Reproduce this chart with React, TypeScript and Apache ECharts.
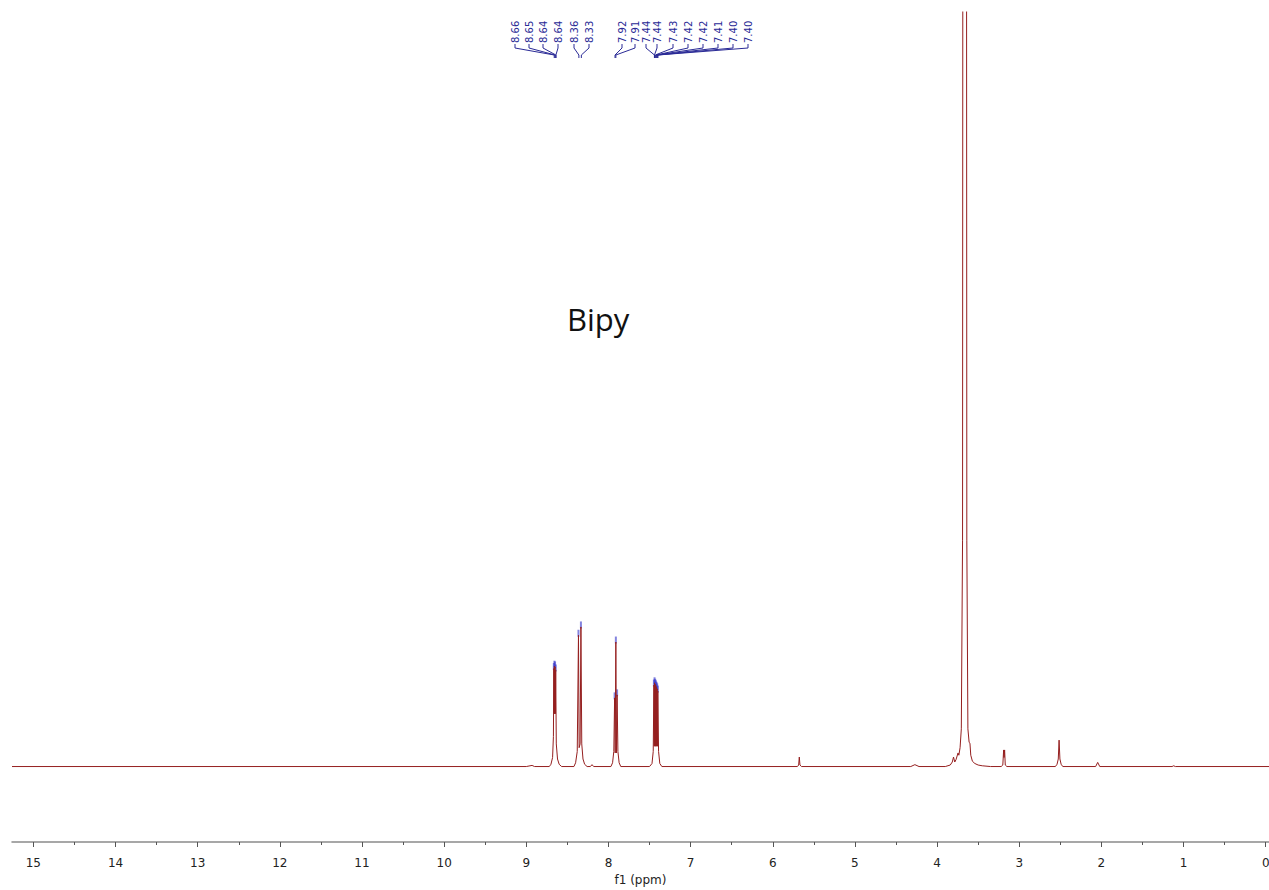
import React, { useEffect, useRef } from "react";
import * as echarts from "echarts";

// Spectrum trace: [ppm, intensity] (baseline = 0)
const SPECTRUM: [number, number][] = [
  [15.26, 0], [9.0, 0], [8.93, 0.15], [8.9, 0],
  // 8.66-8.64 multiplet
  [8.72, 0], [8.7, 0.3], [8.68, 1.2], [8.67, 4], [8.665, 13.0], [8.662, 7], [8.658, 13.3], [8.654, 7],
  [8.65, 13.2], [8.646, 7], [8.642, 12.8], [8.635, 3], [8.62, 1], [8.6, 0.3], [8.57, 0],
  // 8.36 / 8.33
  [8.42, 0], [8.4, 0.5], [8.38, 2], [8.365, 17.4], [8.357, 2.5], [8.345, 3], [8.335, 18.5], [8.325, 3],
  [8.31, 1], [8.29, 0.3], [8.26, 0],
  [8.22, 0], [8.2, 0.25], [8.18, 0],
  // 7.92 / 7.91
  [7.97, 0], [7.95, 0.5], [7.935, 2], [7.925, 9.1], [7.918, 1.8], [7.91, 16.5], [7.903, 1.8], [7.895, 9.5],
  [7.885, 2], [7.87, 0.5], [7.85, 0],
  // 7.44-7.40 multiplet
  [7.5, 0], [7.47, 0.4], [7.455, 2], [7.447, 10.8], [7.443, 2.7], [7.439, 11.1], [7.435, 2.7], [7.431, 10.9],
  [7.427, 2.7], [7.423, 10.7], [7.419, 2.7], [7.415, 10.5], [7.411, 2.7], [7.407, 10.3], [7.403, 2.7],
  [7.399, 10.0], [7.39, 2], [7.375, 0.4], [7.35, 0],
  // 5.68
  [5.7, 0], [5.685, 0.2], [5.677, 1.26], [5.669, 0.2], [5.65, 0],
  // 4.27
  [4.32, 0], [4.27, 0.25], [4.22, 0],
  // 3.66 large signal
  [3.9, 0], [3.84, 0.2], [3.815, 0.6], [3.8, 1.26], [3.785, 0.6], [3.77, 0.9], [3.745, 1.8], [3.735, 1.5],
  [3.72, 2.5], [3.705, 5], [3.69, 30], [3.685, 150], [3.665, 800], [3.643, 150], [3.638, 30], [3.625, 5],
  [3.61, 3.2], [3.6, 3.1], [3.59, 1.5], [3.57, 0.7], [3.54, 0.4], [3.5, 0.2], [3.45, 0.1], [3.35, 0],
  // 3.18 doublet
  [3.22, 0], [3.2, 0.2], [3.19, 2.2], [3.185, 1.2], [3.178, 2.2], [3.17, 0.2], [3.15, 0],
  // 2.51
  [2.56, 0], [2.54, 0.3], [2.525, 1], [2.515, 3.5], [2.505, 1], [2.49, 0.3], [2.47, 0],
  // 2.05
  [2.07, 0], [2.045, 0.55], [2.02, 0],
  [1.14, 0], [1.12, 0.1], [1.1, 0],
  [-0.04, 0],
];

// Peak-pick markers (blue ticks above peak tops)
const PICK_MARKS: [number, number][] = [
  [8.665, 13.0], [8.658, 13.3], [8.65, 13.2], [8.642, 12.8],
  [8.365, 17.4], [8.335, 18.5],
  [7.925, 9.1], [7.91, 16.5], [7.895, 9.5],
  [7.447, 10.8], [7.439, 11.1], [7.431, 10.9], [7.423, 10.7], [7.415, 10.5], [7.407, 10.3], [7.399, 10.0],
];

// Peak labels at the top
const PEAK_LABELS = ["8.66", "8.65", "8.64", "8.64", "8.36", "8.33", "7.92", "7.91",
  "7.44", "7.44", "7.43", "7.42", "7.42", "7.41", "7.40", "7.40"];
const PEAK_LABEL_PPM = [8.66, 8.65, 8.64, 8.64, 8.36, 8.33, 7.92, 7.91,
  7.44, 7.44, 7.43, 7.42, 7.42, 7.41, 7.40, 7.40];

// Axis ticks
const MAJOR_TICKS = [0, 1, 2, 3, 4, 5, 6, 7, 8, 9, 10, 11, 12, 13, 14, 15];
const MINOR_TICKS = [0.5, 1.5, 2.5, 3.5, 4.5, 5.5, 6.5, 7.5, 8.5, 9.5, 10.5, 11.5, 12.5, 13.5, 14.5];

// Layout (pixel x of each rotated peak label)
const LABEL_X = [515, 529, 543, 558, 574, 589, 622, 635, 646, 657, 673, 688, 703, 718, 733, 748];

const LABEL_BLUE = "#2a2a96";

export default function App() {
  const ref = useRef<HTMLDivElement>(null);
  useEffect(() => {
    if (!ref.current) return;
    const chart = echarts.init(ref.current, undefined, { renderer: "svg", width: 1269, height: 890 });
    const xBase = {
      type: "value",
      inverse: true,
      min: -0.04,
      max: 15.26,
      position: "bottom",
      splitLine: { show: false },
    };
    chart.setOption({
      animation: false,
      grid: { left: 12, right: 0, top: 12, bottom: 48, containLabel: false, outerBoundsMode: "none" },
      xAxis: [
        {
          ...xBase,
          name: "f1 (ppm)",
          nameLocation: "middle",
          nameGap: 31,
          nameTextStyle: { fontFamily: "DejaVu Sans", fontSize: 12, color: "#222" },
          axisLine: { show: true, onZero: false, lineStyle: { color: "#8a8a8a", width: 1.5 } },
          axisTick: { show: true, customValues: MAJOR_TICKS, length: 5, lineStyle: { color: "#555" } },
          axisLabel: {
            show: true,
            customValues: MAJOR_TICKS,
            margin: 15,
            fontFamily: "DejaVu Sans",
            fontSize: 12,
            color: "#222",
          },
        },
        {
          ...xBase,
          axisLine: { show: false, onZero: false },
          axisTick: { show: true, customValues: MINOR_TICKS, length: 3, lineStyle: { color: "#555" } },
          axisLabel: { show: false },
        },
      ],
      yAxis: { type: "value", min: -10, max: 100, show: false },
      series: [
        {
          type: "line",
          data: SPECTRUM,
          xAxisIndex: 0,
          showSymbol: false,
          symbol: "none",
          clip: true,
          lineStyle: { color: "#951f1f", width: 1 },
          silent: true,
        },
        {
          type: "scatter",
          data: PICK_MARKS,
          xAxisIndex: 0,
          symbol: "rect",
          symbolSize: [2, 7],
          symbolOffset: [0, -2],
          itemStyle: { color: "rgba(50,50,200,0.75)" },
          silent: true,
        },
        {
          type: "custom",
          xAxisIndex: 0,
          data: PEAK_LABEL_PPM.map((p, i) => [p, i]),
          silent: true,
          renderItem: (params: any, api: any) => {
            const ppm = api.value(0);
            const idx = api.value(1);
            const px = api.coord([ppm, 0])[0];
            const lx = LABEL_X[idx];
            return {
              type: "group",
              children: [
                {
                  type: "polyline",
                  shape: { points: [[lx, 44], [lx, 48], [px, 55], [px, 58]] },
                  style: { stroke: LABEL_BLUE, lineWidth: 1, fill: "none" },
                },
                {
                  type: "text",
                  x: lx,
                  y: 43,
                  rotation: Math.PI / 2,
                  style: {
                    text: PEAK_LABELS[idx],
                    fill: LABEL_BLUE,
                    font: '10px "DejaVu Sans"',
                    align: "left",
                    verticalAlign: "middle",
                  },
                },
              ],
            };
          },
        },
      ],
      graphic: [
        {
          type: "text",
          left: 567,
          top: 303,
          style: { text: "Bipy", font: '31px "Open Sans"', fill: "#111" },
        },
      ],
    });
    return () => chart.dispose();
  }, []);
  return (
    <div
      ref={ref}
      style={{ position: "absolute", left: 0, top: 0, width: 1269, height: 890, background: "#fff" }}
    />
  );
}
